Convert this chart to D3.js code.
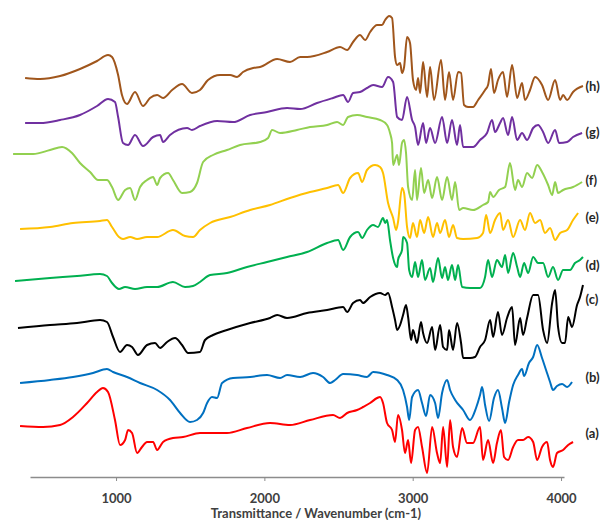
<!DOCTYPE html>
<html>
<head>
<meta charset="utf-8">
<script src="https://cdn.jsdelivr.net/npm/d3@7"></script>
<style>
  html, body { margin: 0; padding: 0; background: #fff; }
  svg { display: block; }
</style>
</head>
<body>
<svg id="chart" width="603" height="520"></svg>
<script>
// Stacked IR spectra, eight samples (a)–(h).
// Each point: [wavenumber (cm-1), offset transmittance (arbitrary units)].

const wavenumberTicks = [1000, 2000, 3000, 4000];
const sampleLabels = ["(a)", "(b)", "(c)", "(d)", "(e)", "(f)", "(g)", "(h)"];
const sampleColors = ["#FF0000", "#0070C0", "#000000", "#00B050", "#FFC000", "#92D050", "#7030A0", "#A0561C"];
// vertical position of each sample label, same units as the spectra
const labelLevels = [45, 101, 179, 213, 261, 298, 346, 392];

const spectrumA = [
  [353,52],[508,51],[623,53],[710,61],[805,75],[872,86],[912,90],[946,86],[993,58],[1027,33],
  [1061,38],[1081,48],[1108,45],[1142,25],[1175,31],[1209,36],[1250,36],[1277,28],[1317,36],[1384,40],
  [1452,41],[1566,45],[1748,45],[1883,50],[2038,55],[2173,53],[2308,58],[2463,63],[2510,60],[2558,65],
  [2625,68],[2665,71],[2713,75],[2760,80],[2780,81],[2800,75],[2827,55],[2861,48],[2881,36],[2901,63],
  [2928,48],[2948,25],[2969,38],[2989,15],[3016,48],[3036,51],[3063,31],[3097,5],[3131,51],[3164,25],
  [3185,15],[3205,51],[3232,11],[3252,58],[3272,31],[3299,21],[3333,50],[3366,35],[3407,35],[3454,51],
  [3474,18],[3508,38],[3542,15],[3568,35],[3595,48],[3616,21],[3643,18],[3677,31],[3710,38],[3744,38],
  [3778,41],[3812,36],[3839,18],[3872,31],[3906,36],[3926,18],[3946,11],[3973,25],[4014,28],[4048,33],
  [4081,36]
];

const spectrumB = [
  [353,95],[555,98],[710,101],[845,105],[939,109],[980,106],[1074,101],[1162,95],[1277,88],[1364,78],
  [1432,65],[1499,56],[1546,58],[1587,65],[1614,75],[1647,81],[1681,80],[1715,95],[1789,100],[1904,101],
  [2018,103],[2106,100],[2153,103],[2241,101],[2328,105],[2396,101],[2443,95],[2477,98],[2531,104],[2625,103],
  [2692,101],[2733,106],[2827,103],[2895,98],[2935,88],[2962,71],[2976,58],[2996,81],[3036,88],[3063,75],
  [3090,62],[3117,83],[3151,75],[3171,60],[3198,85],[3232,98],[3252,88],[3286,78],[3340,68],[3387,58],
  [3427,70],[3454,83],[3468,91],[3488,73],[3515,57],[3548,80],[3575,88],[3602,70],[3623,55],[3650,76],
  [3677,93],[3710,103],[3737,109],[3751,102],[3784,115],[3812,121],[3839,133],[3872,120],[3899,108],[3926,96],
  [3946,88],[3973,92],[4007,94],[4041,91],[4074,96]
];

const spectrumC = [
  [339,150],[555,153],[737,155],[892,158],[939,156],[980,141],[1027,126],[1074,133],[1108,131],[1148,123],
  [1209,133],[1263,135],[1297,130],[1344,136],[1398,140],[1445,133],[1486,125],[1566,126],[1600,138],[1654,143],
  [1748,148],[1904,155],[2038,160],[2086,163],[2153,160],[2288,165],[2423,168],[2531,171],[2558,166],[2598,175],
  [2645,178],[2665,175],[2713,181],[2780,185],[2814,183],[2834,185],[2861,171],[2881,158],[2895,148],[2915,153],
  [2935,163],[2955,173],[2969,161],[2989,138],[3002,148],[3029,135],[3056,156],[3070,145],[3097,135],[3131,151],
  [3151,128],[3185,153],[3205,131],[3232,128],[3245,148],[3272,128],[3299,155],[3326,135],[3340,120],[3387,120],
  [3420,121],[3454,131],[3488,138],[3522,158],[3542,141],[3575,166],[3602,143],[3636,160],[3670,171],[3690,133],
  [3724,160],[3744,143],[3771,160],[3812,183],[3845,183],[3879,148],[3906,135],[3940,175],[3960,188],[3980,151],
  [4007,135],[4027,135],[4048,161],[4074,151],[4108,173],[4128,181],[4148,193]
];

const spectrumD = [
  [319,197],[555,200],[737,202],[892,204],[939,202],[973,195],[1020,189],[1061,191],[1128,189],[1209,191],
  [1277,191],[1384,196],[1465,191],[1519,192],[1566,196],[1634,203],[1748,205],[1883,211],[2018,216],[2153,221],
  [2288,226],[2423,235],[2497,238],[2531,228],[2578,241],[2632,246],[2659,240],[2692,248],[2733,253],[2766,251],
  [2800,260],[2814,255],[2827,258],[2847,238],[2868,220],[2895,211],[2901,218],[2928,228],[2935,241],[2962,235],
  [2976,208],[2996,201],[3016,216],[3036,201],[3063,218],[3083,198],[3117,210],[3137,196],[3171,220],[3198,200],
  [3218,211],[3238,198],[3265,213],[3286,198],[3306,213],[3333,191],[3387,190],[3454,190],[3488,201],[3508,218],
  [3535,201],[3568,218],[3602,211],[3623,223],[3643,205],[3677,225],[3704,211],[3724,201],[3751,215],[3778,205],
  [3812,221],[3845,215],[3879,215],[3913,201],[3946,211],[3980,198],[4014,208],[4061,208],[4094,215],[4128,218],
  [4148,221]
];

const spectrumE = [
  [353,249],[555,251],[710,255],[892,257],[939,258],[973,251],[1020,241],[1047,239],[1095,241],[1142,239],
  [1209,241],[1277,241],[1384,248],[1465,242],[1519,241],[1566,248],[1634,255],[1769,261],[1904,268],[2038,273],
  [2173,280],[2308,286],[2423,290],[2497,293],[2531,285],[2578,300],[2632,305],[2659,296],[2692,308],[2746,313],
  [2780,311],[2800,305],[2834,275],[2868,260],[2888,248],[2901,256],[2928,290],[2942,285],[2962,251],[2982,240],
  [3002,255],[3029,241],[3050,258],[3077,245],[3104,261],[3137,241],[3164,255],[3185,245],[3218,258],[3245,241],
  [3272,253],[3299,240],[3340,239],[3434,240],[3474,245],[3495,263],[3522,245],[3555,258],[3589,265],[3609,248],
  [3643,258],[3677,241],[3724,258],[3757,248],[3791,265],[3825,255],[3859,258],[3892,245],[3926,250],[3960,238],
  [3994,245],[4041,248],[4081,258],[4115,265]
];

const spectrumF = [
  [306,324],[441,324],[555,328],[636,331],[703,325],[757,315],[825,306],[879,298],[939,298],[973,291],
  [1014,278],[1061,288],[1095,290],[1128,278],[1162,291],[1209,298],[1250,301],[1277,293],[1297,300],[1351,305],
  [1384,298],[1445,285],[1499,286],[1546,295],[1587,316],[1654,323],[1748,328],[1836,333],[1971,336],[2025,340],
  [2052,348],[2106,345],[2220,348],[2308,351],[2423,353],[2490,356],[2531,353],[2564,361],[2625,363],[2692,361],
  [2780,358],[2827,353],[2847,345],[2861,335],[2868,313],[2895,323],[2908,313],[2928,335],[2942,338],[2955,325],
  [2969,291],[2996,278],[3016,308],[3029,278],[3056,310],[3077,285],[3104,298],[3131,280],[3164,301],[3198,278],
  [3232,301],[3265,278],[3286,296],[3313,268],[3340,270],[3407,268],[3474,273],[3508,276],[3522,286],[3542,281],
  [3582,288],[3623,291],[3656,315],[3690,288],[3710,298],[3737,291],[3771,305],[3805,300],[3839,313],[3872,306],
  [3913,293],[3940,283],[3960,296],[3980,285],[4014,288],[4081,291],[4142,296]
];

const spectrumG = [
  [387,355],[488,355],[623,358],[757,363],[872,372],[946,379],[993,376],[1014,361],[1047,335],[1081,333],
  [1128,343],[1182,332],[1250,341],[1297,343],[1317,336],[1364,343],[1479,350],[1512,348],[1566,352],[1681,357],
  [1789,356],[1904,363],[2018,366],[2153,370],[2241,369],[2355,375],[2463,380],[2531,383],[2564,376],[2598,385],
  [2645,386],[2692,390],[2733,393],[2793,391],[2834,401],[2868,396],[2895,361],[2928,358],[2962,381],[2996,358],
  [3016,351],[3036,333],[3070,355],[3090,335],[3117,350],[3151,335],[3198,361],[3232,335],[3265,358],[3299,333],
  [3319,353],[3340,331],[3407,331],[3454,338],[3501,345],[3535,358],[3555,346],[3589,355],[3609,360],[3643,343],
  [3670,361],[3704,338],[3737,345],[3771,338],[3812,350],[3845,353],[3879,346],[3913,335],[3960,348],[3987,335],
  [4041,336],[4081,341],[4142,345]
];

const spectrumH = [
  [387,400],[488,399],[623,402],[757,409],[872,417],[946,423],[973,421],[1014,403],[1040,383],[1074,374],
  [1128,386],[1182,372],[1229,380],[1277,383],[1317,380],[1378,388],[1445,394],[1512,385],[1566,388],[1620,398],
  [1701,403],[1769,403],[1816,401],[1856,406],[1924,410],[1971,411],[2086,419],[2173,416],[2241,421],[2288,421],
  [2423,426],[2510,431],[2558,428],[2598,436],[2645,443],[2679,438],[2713,446],[2760,453],[2793,453],[2814,458],
  [2841,462],[2861,460],[2881,421],[2895,413],[2915,415],[2928,405],[2942,411],[2962,441],[2982,435],[3002,398],
  [3023,388],[3036,400],[3050,385],[3070,416],[3097,381],[3117,411],[3144,378],[3191,418],[3218,378],[3245,406],
  [3272,378],[3306,406],[3326,405],[3346,373],[3373,371],[3407,371],[3441,378],[3488,388],[3508,393],[3528,409],
  [3548,385],[3575,398],[3609,406],[3636,381],[3670,413],[3704,380],[3737,395],[3757,378],[3791,388],[3825,401],
  [3872,393],[3913,378],[3960,398],[3994,378],[4014,383],[4041,378],[4081,386],[4148,392]
];

const spectra = [spectrumA, spectrumB, spectrumC, spectrumD, spectrumE, spectrumF, spectrumG, spectrumH];

const svg = d3.select("#chart");
const fontFamily = "Lato, 'Open Sans', 'Liberation Sans', sans-serif";

const x = d3.scaleLinear().domain([420, 4020]).range([30, 564]);
const y = d3.scaleLinear().domain([0, 478]).range([478, 0]);

// x axis
const axis = svg.append("g")
  .attr("transform", `translate(0,${y(0) - 1})`)
  .call(d3.axisBottom(x).tickValues(wavenumberTicks).tickSize(4).tickSizeOuter(0).tickFormat(d3.format("d")));
axis.select(".domain").attr("stroke", "#8c8c8c").attr("stroke-width", 1.5);
axis.selectAll(".tick line").attr("stroke", "#8c8c8c");
axis.selectAll(".tick text")
  .attr("y", 26).attr("dy", 0)
  .attr("fill", "#404040")
  .style("font-family", fontFamily)
  .style("font-size", "13px")
  .style("font-weight", "bold");

svg.append("text")
  .attr("x", 316).attr("y", 518)
  .attr("text-anchor", "middle")
  .attr("fill", "#404040")
  .style("font-family", fontFamily)
  .style("font-size", "13px")
  .style("font-weight", "bold")
  .text("Transmittance / Wavenumber (cm-1)");

// spectra
const line = d3.line()
  .x(d => x(d[0]))
  .y(d => y(d[1]))
  .curve(d3.curveMonotoneX);

svg.append("g").selectAll("path")
  .data(spectra)
  .join("path")
  .attr("d", line)
  .attr("fill", "none")
  .attr("stroke", (d, i) => sampleColors[i])
  .attr("stroke-width", 2)
  .attr("stroke-linejoin", "round");

// sample labels at the right end
svg.append("g").selectAll("text")
  .data(sampleLabels)
  .join("text")
  .attr("x", x(4165))
  .attr("y", (d, i) => y(labelLevels[i]))
  .attr("dy", "0.35em")
  .attr("fill", "#262626")
  .style("font-family", fontFamily)
  .style("font-size", "13px")
  .style("font-weight", "bold")
  .text(d => d);
</script>
</body>
</html>
